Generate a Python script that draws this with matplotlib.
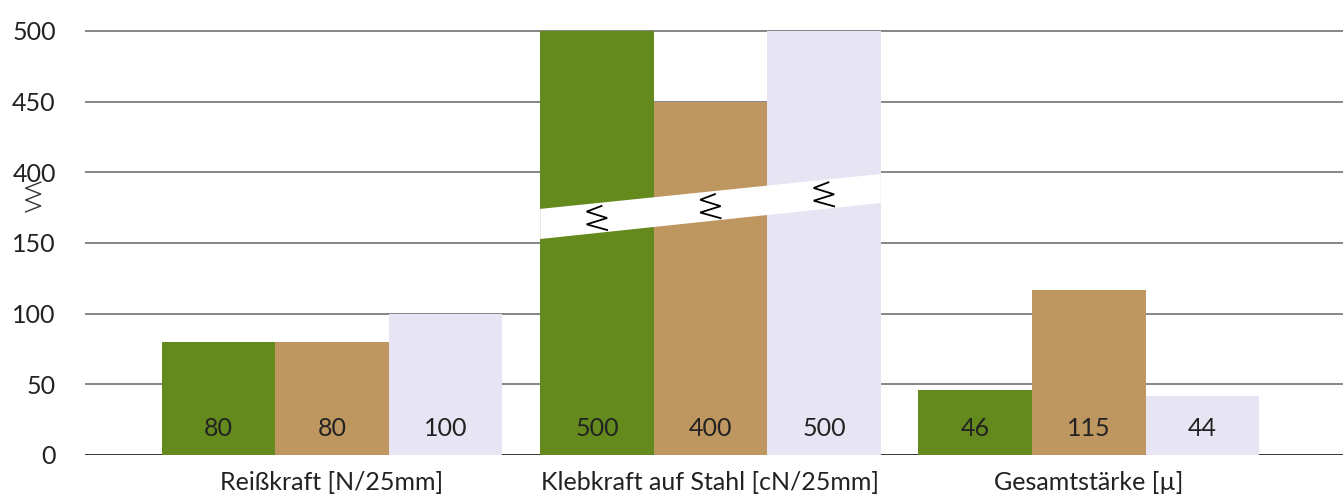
import numpy as np
import matplotlib.pyplot as plt

plt.rcParams['font.family'] = ['Lato', 'DejaVu Sans']

# data
categories = ['Reißkraft [N/25mm]', 'Klebkraft auf Stahl [cN/25mm]', 'Gesamtstärke [\u00b5]']
series_a = [80, 500, 46]
series_b = [80, 450, 117]
series_c = [100, 500, 42]
labels_a = ['80', '500', '46']
labels_b = ['80', '400', '115']
labels_c = ['100', '500', '44']
colors = ['#648a1e', '#be9660', '#e7e5f3']

tick_values = [0, 50, 100, 150, 400, 450, 500]
break_low, break_high = 150, 400


def to_axis(v):
    # compress the gap between 150 and 400
    v = np.asarray(v, dtype=float)
    return np.where(v > break_low, v - (break_high - break_low - 50), v)


fig = plt.figure(figsize=(13.43, 4.99), dpi=100)
ax = fig.add_axes([85 / 1343, 1 - 455 / 499, 1 - 85 / 1343, 455 / 499])

index = np.arange(len(categories))
bar_width = 0.3
txt_color = '#222222'

tick_pos = to_axis(tick_values)
for i, p in enumerate(tick_pos):
    ax.axhline(p, color='#000000' if i == 0 else '#666666', lw=1.1, zorder=0)

for k, (vals, labs) in enumerate([(series_a, labels_a), (series_b, labels_b), (series_c, labels_c)]):
    xs = index + (k - 1) * bar_width
    ax.bar(xs, to_axis(vals), bar_width, color=colors[k], zorder=2, linewidth=0)
    for x, lab in zip(xs, labs):
        ax.text(x, 19, lab, ha='center', va='center', fontsize=18, color=txt_color, zorder=5)

# break band across the middle group
x0, x1 = 1 - 1.5 * bar_width, 1 + 1.5 * bar_width
band = plt.Polygon([(x0, 152.8), (x1, 178.3), (x1, 198.8), (x0, 174.1)],
                   closed=True, facecolor='white', edgecolor='none', zorder=3)
ax.add_patch(band)
slope = (188.6 - 163.5) / (x1 - x0)
zz_x = np.array([0.012, -0.027, 0.027, -0.027, 0.027])
zz_y = np.array([8.5, 4.5, 0, -4.5, -8.5])
for k in range(3):
    xc = 1 + (k - 1) * bar_width
    yc = 163.5 + slope * (xc - x0)
    ax.plot(xc + zz_x, yc + zz_y, color='black', lw=1.3, zorder=4,
            solid_joinstyle='miter')

# break mark on the y axis
yx = np.array([0.02, -0.02, 0.02, -0.02, 0.02, -0.02]) - 0.79
yy = np.linspace(193, 172, 6)
ax.plot(yx, yy, color='#333333', lw=1.0, clip_on=False)

for i, c in enumerate(categories):
    ax.text(i, -19.8, c, ha='center', va='center', fontsize=18, color=txt_color)

ax.set_xlim(-0.653, 2.672)
ax.set_ylim(0, 321.9)
ax.set_yticks(tick_pos)
ax.set_yticklabels([str(v) for v in tick_values], fontsize=18, color=txt_color)
ax.tick_params(axis='y', length=0, pad=21)
ax.set_xticks([])
for s in ax.spines.values():
    s.set_visible(False)
ax.patch.set_alpha(0)

fig.savefig('out.png', dpi=100)
